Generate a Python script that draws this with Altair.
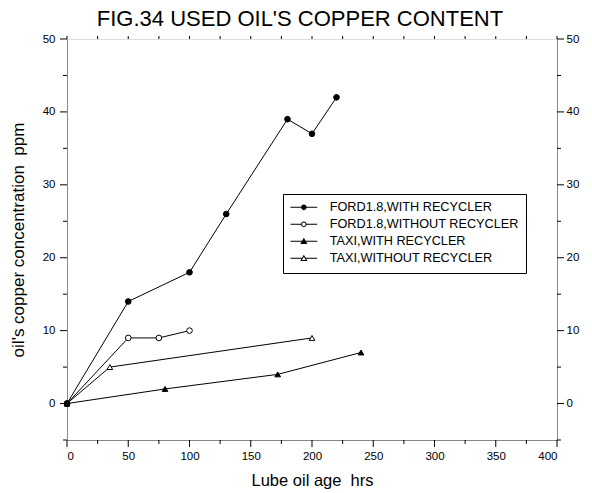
import altair as alt
import pandas as pd

# ---- data ----
series_names = [
    "FORD1.8,WITH RECYCLER",
    "FORD1.8,WITHOUT RECYCLER",
    "TAXI,WITH RECYCLER",
    "TAXI,WITHOUT RECYCLER",
]
ford_with_hrs = [0, 50, 100, 130, 180, 200, 220]
ford_with_ppm = [0, 14, 18, 26, 39, 37, 42]
ford_without_hrs = [0, 50, 75, 100]
ford_without_ppm = [0, 9, 9, 10]
taxi_with_hrs = [0, 80, 172, 240]
taxi_with_ppm = [0, 2, 4, 7]
taxi_without_hrs = [0, 35, 200]
taxi_without_ppm = [0, 5, 9]

# axis tick values
x_major = [0, 50, 100, 150, 200, 250, 300, 350, 400]
x_minor = [25, 75, 125, 175, 225, 275, 325, 375]
y_major = [0, 10, 20, 30, 40, 50]
y_minor = [-5, 5, 15, 25, 35, 45]

# ---- styles ----
marker_shapes = ["circle", "circle", "triangle-up", "triangle-up"]
marker_fills = ["black", "white", "black", "white"]
# legend glyphs drawn as filled outlines: line segments + marker (rings for open markers)
circ = "M-1,0A1,1 0 1,1 1,0A1,1 0 1,1 -1,0Z"
circ_hole = "M-0.64,0A0.64,0.64 0 1,0 0.64,0A0.64,0.64 0 1,0 -0.64,0Z"
tri = "M0,-1.25L1.3,0.95L-1.3,0.95Z"
tri_hole = "M0,-0.543L-0.67,0.59L0.67,0.59Z"
seg_c = "M-4.8,-0.18L-0.98,-0.18L-0.98,0.18L-4.8,0.18ZM0.98,-0.18L4.8,-0.18L4.8,0.18L0.98,0.18Z"
seg_t = "M-4.8,-0.18L-0.64,-0.18L-0.64,0.18L-4.8,0.18ZM0.64,-0.18L4.8,-0.18L4.8,0.18L0.64,0.18Z"
legend_glyphs = [
    seg_c + circ,
    seg_c + circ + circ_hole,
    seg_t + tri,
    seg_t + tri + tri_hole,
]

frames = []
for name, xs, ys in [
    (series_names[1], ford_without_hrs, ford_without_ppm),
    (series_names[3], taxi_without_hrs, taxi_without_ppm),
    (series_names[0], ford_with_hrs, ford_with_ppm),
    (series_names[2], taxi_with_hrs, taxi_with_ppm),
]:
    frames.append(pd.DataFrame({"series": name, "hrs": xs, "ppm": ys}))
df = pd.concat(frames, ignore_index=True)

FONT = "Liberation Sans"
MAJOR, MINOR, TOP = 7, 4, 3

xscale = alt.Scale(domain=[0, 400], nice=False, zero=False)
yscale = alt.Scale(domain=[-5, 50], nice=False, zero=False)

# axes carry labels and titles; the visible tick strokes are drawn by tick layers below
common = dict(ticks=True, tickOpacity=0, tickSize=MAJOR, grid=False)

x_bottom = alt.Axis(
    orient="bottom", values=x_major,
    labelPadding=3, labelFontSize=11.5, title="Lube oil age\u00a0 hrs",
    titleFontSize=16.5, titleFontWeight="normal", titlePadding=11, **common,
)
y_left = alt.Axis(
    orient="left", values=y_major,
    labelPadding=5, labelFontSize=11.5, title="oil's copper concentration\u00a0 ppm",
    titleFontSize=17, titleFontWeight="normal", titlePadding=15, **common,
)
y_right = alt.Axis(
    orient="right", values=y_major,
    labelPadding=2, labelFontSize=11.5, title=None, **common,
)

base = alt.Chart(df)

lines = base.mark_line(color="black", strokeWidth=1).encode(
    x=alt.X("hrs:Q", scale=xscale, axis=x_bottom),
    y=alt.Y("ppm:Q", scale=yscale, axis=y_left),
    detail="series:N",
)

points = base.mark_point(filled=True, stroke="black", strokeWidth=1, size=32, opacity=1).encode(
    x=alt.X("hrs:Q", scale=xscale, axis=None),
    y=alt.Y("ppm:Q", scale=yscale, axis=y_right),
    shape=alt.Shape("series:N", scale=alt.Scale(domain=series_names, range=marker_shapes), legend=None),
    fill=alt.Fill("series:N", scale=alt.Scale(domain=series_names, range=marker_fills), legend=None),
)

legend_layer = base.mark_point(
    filled=True, color="black", size=31, opacity=0
).encode(
    x=alt.X("hrs:Q", scale=xscale, axis=None),
    y=alt.Y("ppm:Q", scale=yscale, axis=None),
    shape=alt.Shape(
        "series:N",
        scale=alt.Scale(domain=series_names, range=legend_glyphs),
        legend=alt.Legend(
            title=None, orient="none", legendX=216, legendY=155,
            padding=7, strokeColor="black", fillColor="white",
            labelFont=FONT, labelFontSize=12.7, labelColor="black", labelLimit=400,
            symbolSize=31, symbolStrokeWidth=0, symbolOffset=7.5, labelOffset=19.5,
            symbolOpacity=1, symbolFillColor="black",
            rowPadding=3,
        ),
    ),
)


def x_ticks(values, length, at, direction):
    return alt.Chart(pd.DataFrame({"v": values})).mark_tick(
        orient="vertical", size=length, thickness=1, color="black", opacity=1,
        yOffset=direction * length / 2,
    ).encode(
        x=alt.X("v:Q", scale=xscale, axis=None),
        y=alt.YDatum(at, scale=yscale, axis=None),
    )


def y_ticks(values, length, at, direction):
    return alt.Chart(pd.DataFrame({"v": values})).mark_tick(
        orient="horizontal", size=length, thickness=1, color="black", opacity=1,
        xOffset=direction * length / 2,
    ).encode(
        y=alt.Y("v:Q", scale=yscale, axis=None),
        x=alt.XDatum(at, scale=xscale, axis=None),
    )


tick_layers = [
    x_ticks(x_major, MAJOR, -5, 1),
    x_ticks(x_minor, MINOR, -5, 1),
    x_ticks(x_major + x_minor, TOP, 50, -1),
    y_ticks(y_major, MAJOR, 0, -1),
    y_ticks(y_minor, MINOR, 0, -1),
    y_ticks(y_major, MAJOR, 400, 1),
    y_ticks(y_minor, MINOR, 400, 1),
]

chart = (
    alt.layer(lines, points, legend_layer, *tick_layers)
    .resolve_axis(x="independent", y="independent")
    .resolve_scale(shape="independent")
    .properties(
        width=490, height=401,
        autosize=alt.AutoSizeParams(type="none"),
        padding={"left": 67, "top": 39, "right": 35, "bottom": 53},
        title=alt.TitleParams(
            "FIG.34 USED OIL'S COPPER CONTENT", fontSize=22, font=FONT,
            fontWeight="normal", anchor="middle", dx=-12, offset=2, color="black",
        ),
    )
    .configure_view(stroke="black", strokeWidth=1)
    .configure_legend(strokeWidth=2)
    .configure_axis(
        domainColor="black", labelColor="black", titleColor="black",
        labelFont=FONT, titleFont=FONT, titleFontWeight="normal", domainWidth=1,
    )
    .configure(background="white")
)

chart.save("out.html", embed_options={"renderer": "svg", "actions": False})
